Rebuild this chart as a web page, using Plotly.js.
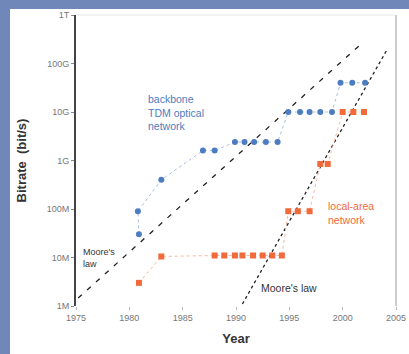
<!DOCTYPE html>
<html>
<head>
<meta charset="utf-8">
<script src="https://cdn.plot.ly/plotly-3.0.1.min.js"></script>
<style>
html,body{margin:0;padding:0;width:409px;height:354px;overflow:hidden;background:#6f87b9;}
#wrap{position:absolute;left:10px;top:9px;width:399px;height:345px;background:#fff;}
#chart{width:399px;height:345px;}
</style>
</head>
<body>
<div id="wrap"><div id="chart"></div></div>
<script>
// Backbone TDM optical network
const blueYears = [1980.9, 1980.8, 1983.0, 1986.9, 1988.0, 1989.9, 1990.8, 1991.7, 1992.8, 1993.9, 1994.9, 1996.0, 1996.9, 1997.9, 1999.0, 1999.8, 2000.9, 2002.1];
const blueRates = [3e7, 9e7, 4e8, 1.6e9, 1.6e9, 2.4e9, 2.4e9, 2.4e9, 2.4e9, 2.4e9, 1e10, 1e10, 1e10, 1e10, 1e10, 4e10, 4e10, 4e10];
// Local-area network
const orangeYears = [1980.9, 1983.0, 1988.0, 1988.9, 1989.9, 1990.6, 1991.6, 1992.5, 1993.4, 1994.3, 1994.9, 1995.8, 1996.9, 1997.9, 1998.6, 2000.0, 2001.0, 2002.0];
const orangeRates = [3e6, 1.05e7, 1.1e7, 1.1e7, 1.1e7, 1.1e7, 1.1e7, 1.1e7, 1.1e7, 1.1e7, 9e7, 9e7, 9e7, 8.5e8, 8.5e8, 1e10, 1e10, 1e10];
// Moore's law guide lines (endpoints)
const moore1Years = [1975.2, 2001.8];
const moore1Rates = [1.46e6, 2.6e11];
const moore2Years = [1990.6, 2004.2];
const moore2Rates = [1.1e6, 2.0e11];
// Axis ticks
const xTicks = [1975, 1980, 1985, 1990, 1995, 2000, 2005];
const yTickVals = [1e6, 1e7, 1e8, 1e9, 1e10, 1e11, 1e12];
const yTickText = ['1M', '10M', '100M', '1G', '10G', '100G', '1T'];

const FONT = 'Liberation Sans, Arial, sans-serif';
const BLUE = '#4d7dc0';
const ORANGE = '#f06a3c';

const traces = [
  {x: moore1Years, y: moore1Rates, mode: 'lines', line: {color: '#222', width: 1.3, dash: '5px,7px'}, hoverinfo: 'skip'},
  {x: moore2Years, y: moore2Rates, mode: 'lines', line: {color: '#222', width: 1.3, dash: 'dot'}, hoverinfo: 'skip'},
  {x: blueYears, y: blueRates, mode: 'lines+markers',
   line: {color: '#a9c1e4', width: 1, dash: 'dot'},
   marker: {color: BLUE, size: 6, symbol: 'circle'}},
  {x: orangeYears, y: orangeRates, mode: 'lines+markers',
   line: {color: '#f7b9a0', width: 1, dash: 'dot'},
   marker: {color: ORANGE, size: 6, symbol: 'square'}}
];

const layout = {
  width: 399, height: 345,
  margin: {l: 66, r: 13, t: 6, b: 48},
  paper_bgcolor: '#fff', plot_bgcolor: '#fff',
  showlegend: false,
  font: {family: FONT, size: 9, color: '#666'},
  xaxis: {
    range: [1975, 2005], tickvals: xTicks, ticktext: xTicks.map(String),
    showgrid: false, zeroline: false, showline: false,
    ticks: 'outside', ticklen: 3, tickcolor: '#bbb',
    tickfont: {size: 9, color: '#777'},
    title: {text: 'Year', font: {size: 13, color: '#333', family: FONT, weight: 'bold'}, standoff: 12}
  },
  yaxis: {
    type: 'log', range: [6, 12], tickvals: yTickVals, ticktext: yTickText,
    showgrid: false, zeroline: false,
    showline: true, linecolor: '#444', linewidth: 2,
    ticks: 'outside', ticklen: 3, tickcolor: '#888',
    tickfont: {size: 9, color: '#777'},
    title: {text: 'Bitrate  (bit/s)', font: {size: 13, color: '#333', family: FONT, weight: 'bold'}, standoff: 17}
  },
  shapes: [
    {type: 'line', xref: 'paper', yref: 'paper', x0: 1, x1: 1, y0: 0, y1: 1, line: {color: '#999', width: 1}},
    {type: 'line', xref: 'paper', yref: 'paper', x0: 0, x1: 1, y0: 1, y1: 1, line: {color: '#e6e6e6', width: 1}}
  ],
  annotations: [
    {x: 1981.6, y: 9.98, text: 'backbone<br>TDM optical<br>network', showarrow: false,
     xanchor: 'left', yanchor: 'middle', align: 'left', font: {size: 10.5, color: BLUE, family: FONT}},
    {x: 1998.4, y: 7.92, text: 'local-area<br>network', showarrow: false,
     xanchor: 'left', yanchor: 'middle', align: 'left', font: {size: 10.5, color: ORANGE, family: FONT}},
    {x: 1975.5, y: 7.0, text: "Moore's<br>law", showarrow: false,
     xanchor: 'left', yanchor: 'middle', align: 'left', font: {size: 9, color: '#333', family: FONT}},
    {x: 1992.2, y: 6.38, text: "Moore's law", showarrow: false,
     xanchor: 'left', yanchor: 'middle', align: 'left', font: {size: 10.5, color: '#333', family: FONT}}
  ]
};

Plotly.newPlot('chart', traces, layout, {staticPlot: true, displayModeBar: false});
</script>
</body>
</html>
